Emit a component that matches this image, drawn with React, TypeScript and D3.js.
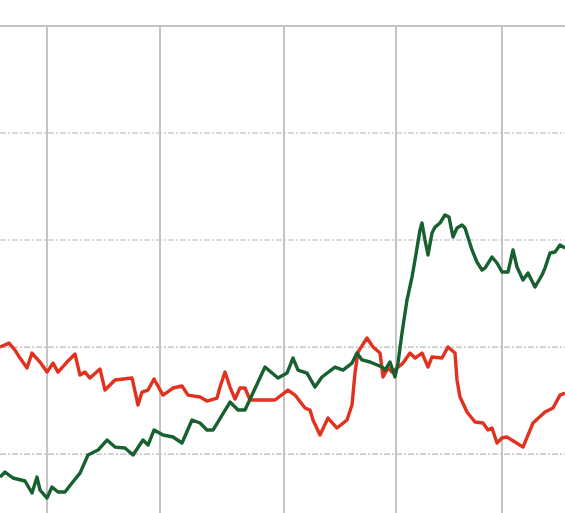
import React from "react";
import * as d3 from "d3";

const W = 565;
const H = 513;

// x in period units, y in index level
const xDomain = [0, 113];
const yDomain = [74.49, 122.43];
const vTicks = [9.4, 32, 56.8, 79.2, 100.4];
const hTicks = [80, 90, 100, 110];
const topLine = 120;

const redT = [0, 1.8, 3, 4, 5.4, 6.4, 8, 9.4, 10.6, 11.6, 13.4, 15, 16, 17, 18, 20, 21, 23, 26.4, 26.6, 27.6, 28.4, 29.6, 30.8, 32.6, 34.6, 36.4, 37.6, 40, 41.4, 43.4, 44, 45, 46, 47, 48, 49, 50, 55, 57.6, 59, 61, 62, 62.6, 64, 65.6, 67.4, 69.4, 70.4, 71, 71.6, 73.4, 74.6, 76, 76.6, 77.6, 78.4, 79.4, 80.6, 82, 83, 84.4, 85.6, 86.4, 88.4, 89.6, 91, 91.4, 92, 93.4, 95, 96.6, 97.6, 98.4, 99.4, 100.4, 101.4, 103, 104.6, 106.6, 109, 110.6, 112, 113];
const redV = [90.0, 90.37, 89.72, 88.97, 88.04, 89.44, 88.6, 87.66, 88.5, 87.66, 88.6, 89.35, 87.38, 87.66, 87.1, 87.94, 85.98, 86.92, 87.1, 86.73, 84.58, 85.79, 85.98, 87.01, 85.51, 86.17, 86.36, 85.51, 85.33, 84.95, 85.23, 86.26, 87.66, 86.26, 85.14, 86.17, 86.17, 85.05, 85.05, 85.98, 85.51, 84.3, 84.11, 83.18, 81.78, 83.36, 82.43, 83.18, 84.58, 87.57, 89.53, 90.84, 90.0, 89.44, 87.2, 88.04, 87.66, 88.04, 88.5, 89.44, 88.97, 89.44, 88.13, 89.07, 88.97, 90.0, 89.44, 86.92, 85.33, 83.93, 82.99, 82.9, 82.24, 82.43, 81.03, 81.5, 81.59, 81.12, 80.65, 82.9, 83.93, 84.3, 85.51, 85.7];

const greenT = [0, 1, 2.6, 5, 6.4, 7.4, 8, 9.4, 10.4, 11.6, 13, 14.4, 16, 17.6, 19.6, 21.4, 23, 25, 26.6, 28.6, 29.6, 30.8, 32.6, 34.6, 36.4, 38.4, 40, 41.4, 42.6, 46, 47.6, 49, 53, 55.6, 57.4, 58.6, 59.6, 61.4, 63, 64.4, 67, 68.6, 70.4, 71.4, 72.4, 74, 76.4, 77, 78, 79, 79.6, 80.4, 81.4, 82.4, 83, 84, 84.4, 85, 85.6, 86.4, 87, 88, 89, 89.8, 90.6, 91.4, 92.4, 93, 94.4, 95.4, 96.4, 97, 98.4, 99.4, 100.4, 101.6, 102.6, 103.4, 104.6, 105.6, 107, 108.4, 109, 110, 111, 112, 113];
const greenV = [77.85, 78.32, 77.76, 77.48, 76.36, 77.85, 76.64, 75.89, 76.92, 76.45, 76.45, 77.29, 78.22, 79.91, 80.37, 81.31, 80.65, 80.56, 79.91, 81.31, 80.84, 82.24, 81.78, 81.59, 81.03, 83.18, 82.9, 82.24, 82.24, 84.86, 84.11, 84.11, 88.13, 87.1, 87.57, 88.97, 87.85, 87.57, 86.26, 87.2, 88.13, 87.85, 88.5, 89.44, 88.79, 88.6, 88.13, 87.85, 88.6, 87.2, 88.5, 91.31, 94.39, 96.54, 98.13, 100.93, 101.59, 100.0, 98.6, 100.65, 101.21, 101.59, 102.34, 102.15, 100.28, 101.12, 101.4, 101.12, 99.07, 97.94, 97.2, 97.38, 98.41, 97.85, 97.01, 97.01, 99.07, 97.48, 96.26, 96.92, 95.61, 96.73, 97.38, 98.79, 98.88, 99.53, 99.25];

const RED = "#e2321f";
const GREEN = "#17602f";

export default function App() {
  const x = d3.scaleLinear().domain(xDomain).range([0, W]);
  const y = d3.scaleLinear().domain(yDomain).range([H, 0]);
  const line = d3
    .line<[number, number]>()
    .x((d) => x(d[0]))
    .y((d) => y(d[1]));
  const red = redT.map((t, i) => [t, redV[i]] as [number, number]);
  const green = greenT.map((t, i) => [t, greenV[i]] as [number, number]);
  const top = y(topLine);

  return (
    <svg
      width={W}
      height={H}
      style={{ position: "absolute", left: 0, top: 0, background: "#fff" }}
    >
      <rect width={W} height={H} fill="#fff" />
      <line x1={0} x2={W} y1={top} y2={top} stroke="#c4c4c4" strokeWidth={2} />
      {hTicks.map((v) => (
        <line
          key={v}
          x1={0}
          x2={W}
          y1={y(v)}
          y2={y(v)}
          stroke="#b8b8b8"
          strokeWidth={1.2}
          strokeDasharray="6,2,2,2"
        />
      ))}
      {vTicks.map((t) => (
        <line
          key={t}
          x1={x(t)}
          x2={x(t)}
          y1={top}
          y2={H}
          stroke="#c4c4c4"
          strokeWidth={2}
        />
      ))}
      <path
        d={line(red) || ""}
        fill="none"
        stroke={RED}
        strokeWidth={3.4}
        strokeLinejoin="round"
      />
      <path
        d={line(green) || ""}
        fill="none"
        stroke={GREEN}
        strokeWidth={3.4}
        strokeLinejoin="round"
      />
    </svg>
  );
}
